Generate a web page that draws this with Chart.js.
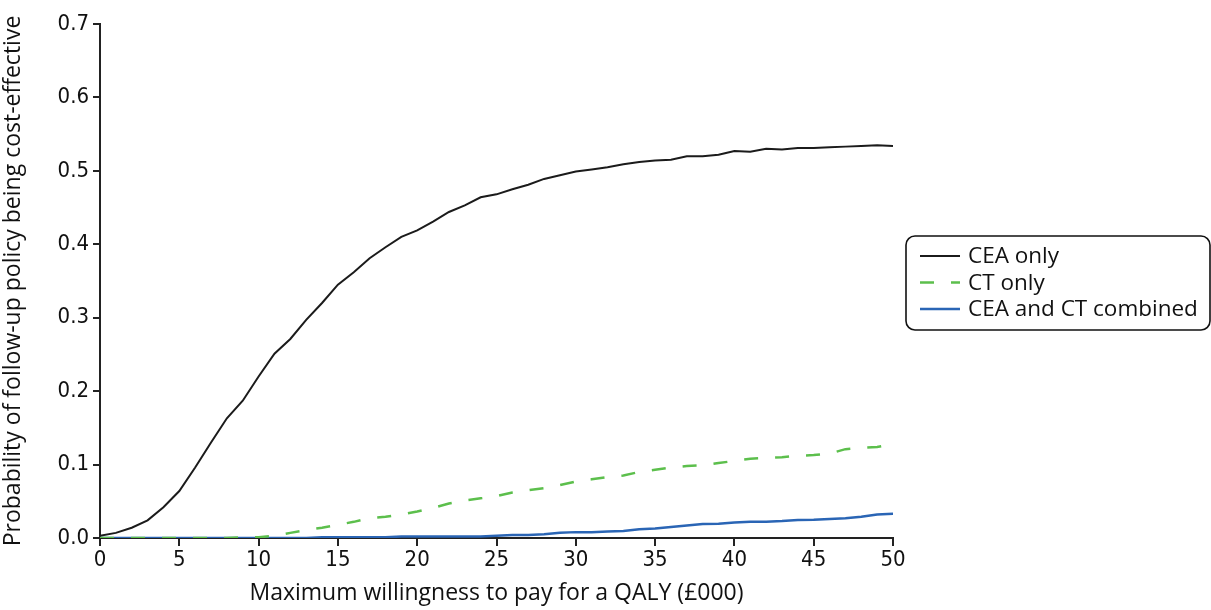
<!DOCTYPE html>
<html>
<head>
<meta charset="utf-8">
<script src="https://cdn.jsdelivr.net/npm/chart.js@4"></script>
<style>
  html, body { margin: 0; padding: 0; background: #fff; }
  #wrap { width: 1211px; height: 610px; position: relative; }
</style>
</head>
<body>
<div id="wrap"><canvas id="grafico" width="1211" height="610"></canvas></div>
<script>
// willingness to pay (£000)
const wtp = [];
for (let k = 0; k <= 50; k++) wtp.push(k);

const ceaOnly = [
  0.003, 0.007, 0.014, 0.024, 0.042, 0.064, 0.096, 0.130, 0.163, 0.187,
  0.220, 0.251, 0.271, 0.297, 0.320, 0.345, 0.362, 0.381, 0.396, 0.410,
  0.419, 0.431, 0.444, 0.453, 0.464, 0.468, 0.475, 0.481, 0.489, 0.494,
  0.499, 0.502, 0.505, 0.509, 0.512, 0.514, 0.515, 0.520, 0.520, 0.522,
  0.527, 0.526, 0.530, 0.529, 0.531, 0.531, 0.532, 0.533, 0.534, 0.535,
  0.534
];
const ctOnly = [
  0, 0, 0, 0, 0, 0, 0, 0, 0, 0.001,
  0.001, 0.003, 0.007, 0.011, 0.014, 0.018, 0.022, 0.027, 0.029, 0.032,
  0.036, 0.041, 0.047, 0.051, 0.054, 0.057, 0.062, 0.065, 0.068, 0.072,
  0.077, 0.080, 0.083, 0.085, 0.090, 0.093, 0.096, 0.098, 0.099, 0.102,
  0.105, 0.108, 0.109, 0.110, 0.112, 0.113, 0.115, 0.121, 0.123, 0.124,
  0.128
];
const combined = [
  0, 0, 0, 0, 0, 0, 0, 0, 0, 0,
  0, 0, 0, 0, 0.001, 0.001, 0.001, 0.001, 0.001, 0.002,
  0.002, 0.002, 0.002, 0.002, 0.002, 0.003, 0.004, 0.004, 0.005, 0.007,
  0.008, 0.008, 0.009, 0.0095, 0.012, 0.013, 0.015, 0.017, 0.019, 0.0195,
  0.021, 0.022, 0.022, 0.023, 0.0245, 0.025, 0.026, 0.027, 0.029, 0.032,
  0.033
];
const nomiSerie = ["CEA only", "CT only", "CEA and CT combined"];

const condensato = "'DejaVu Sans Condensed', 'Open Sans', sans-serif";
const normale = "'Open Sans', 'Noto Sans', sans-serif";

function punti(ys) {
  return ys.map((y, i) => ({ x: wtp[i], y: y }));
}

// legenda con cornice arrotondata
const legendaBox = {
  id: "legendaBox",
  afterDraw(chart) {
    const ctx = chart.ctx;
    const x0 = 906, y0 = 236, w = 304, h = 94, r = 9;
    ctx.save();
    ctx.lineWidth = 1.6;
    ctx.strokeStyle = "#111";
    ctx.beginPath();
    ctx.roundRect(x0, y0, w, h, r);
    ctx.stroke();
    ctx.font = "22.5px " + normale;
    ctx.textBaseline = "middle";
    ctx.fillStyle = "#111";
    chart.data.datasets.forEach((ds, i) => {
      const y = 256 + i * 26.5;
      ctx.beginPath();
      ctx.lineWidth = ds.borderWidth;
      ctx.strokeStyle = ds.borderColor;
      ctx.setLineDash(ds.borderDash || []);
      ctx.moveTo(920, y);
      ctx.lineTo(960, y);
      ctx.stroke();
      ctx.setLineDash([]);
      ctx.fillText(ds.label, 968, y + 1);
    });
    ctx.restore();
  }
};

const ctx = document.getElementById("grafico").getContext("2d");
new Chart(ctx, {
  type: "line",
  data: {
    datasets: [
      {
        label: nomiSerie[0],
        data: punti(ceaOnly),
        borderColor: "#1b1b1b",
        borderWidth: 2,
        pointRadius: 0,
        tension: 0
      },
      {
        label: nomiSerie[1],
        data: punti(ctOnly),
        borderColor: "#5cbf4c",
        borderWidth: 2.5,
        borderDash: [14, 17],
        pointRadius: 0,
        tension: 0
      },
      {
        label: nomiSerie[2],
        data: punti(combined),
        borderColor: "#2a65b5",
        borderWidth: 2.5,
        pointRadius: 0,
        tension: 0
      }
    ]
  },
  options: {
    responsive: false,
    animation: false,
    layout: { padding: { top: 24, right: 318, left: 0, bottom: 0 } },
    plugins: { legend: { display: false }, tooltip: { enabled: false } },
    scales: {
      x: {
        type: "linear",
        min: 0,
        max: 50,
        afterFit(scale) { scale.height = 72; },
        border: { color: "#222", width: 2 },
        grid: { display: true, drawOnChartArea: false, tickLength: 8, color: "#222", lineWidth: 2 },
        ticks: {
          stepSize: 5,
          color: "#111",
          padding: 1,
          font: { family: condensato, size: 22 }
        },
        title: {
          display: true,
          text: "Maximum willingness to pay for a QALY (£000)",
          color: "#111",
          padding: { top: 0, bottom: 3 },
          font: { family: normale, size: 23 }
        }
      },
      y: {
        min: 0,
        max: 0.7,
        afterFit(scale) { scale.width = 100; },
        border: { color: "#222", width: 2 },
        grid: { display: true, drawOnChartArea: false, tickLength: 7, color: "#222", lineWidth: 2 },
        ticks: {
          stepSize: 0.1,
          color: "#111",
          padding: 4,
          font: { family: condensato, size: 22 },
          callback: v => v.toFixed(1)
        },
        title: {
          display: true,
          text: "Probability of follow-up policy being cost-effective",
          color: "#111",
          padding: { top: 0, bottom: 0 },
          font: { family: normale, size: 23 }
        }
      }
    }
  },
  plugins: [legendaBox]
});
</script>
</body>
</html>
